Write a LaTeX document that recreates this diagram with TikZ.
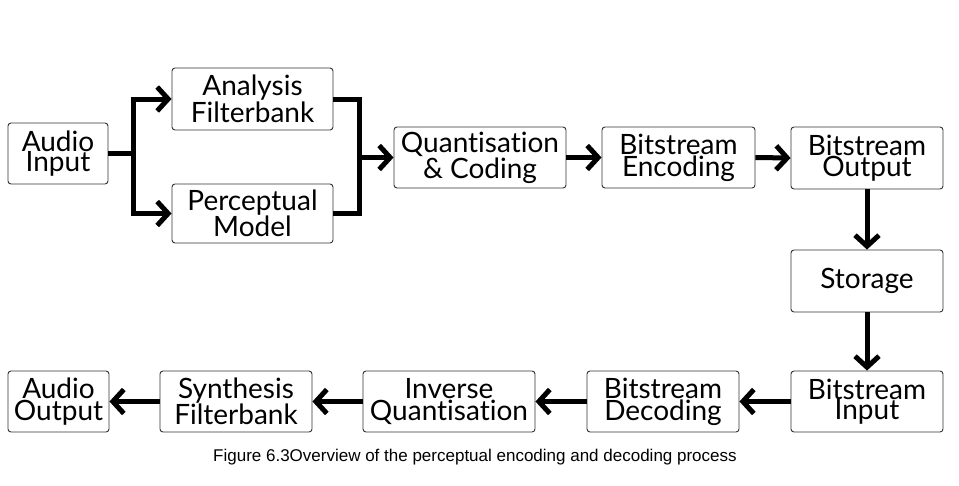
\documentclass[tikz,border=0pt]{standalone}
\usepackage{fontspec}
\setmainfont[Ligatures=NoCommon]{Lato}
\newfontfamily\capfont{Liberation Sans}
\usetikzlibrary{arrows.meta}
\begin{document}
\begin{tikzpicture}[x=1pt,y=-1pt,
  blk/.style={draw=black!80,line width=0.9pt,rounded corners=3pt,inner sep=0pt,
    align=center,font=\fontsize{28}{20.5}\selectfont,minimum height=61pt},
  conn/.style={line width=5pt},
  arr/.style={line width=5pt,-{Straight Barb[length=11pt,width=24pt]}}]
\useasboundingbox[fill=white] (0,0) rectangle (959,485);
\node[blk,minimum width=100pt] (ain) at (58,153.5) {Audio\\Input};
\node[blk,minimum width=161pt,minimum height=62pt] (anf) at (252.5,99) {Analysis\\Filterbank};
\node[blk,minimum width=161pt,minimum height=59pt] (pm) at (252.5,213.5) {Perceptual\\Model};
\node[blk,minimum width=172pt] (qc) at (480,157.5) {Quantisation\\\& Coding};
\node[blk,minimum width=153pt] (be) at (678.5,157.5) {Bitstream\\Encoding};
\node[blk,minimum width=152pt,minimum height=62pt] (bo) at (867,158) {Bitstream\\Output};
\node[blk,minimum width=152pt,minimum height=62pt] (st) at (867,281) {Storage};
\node[blk,minimum width=152pt] (bi) at (867,401.5) {Bitstream\\Input};
\node[blk,minimum width=152pt] (bd) at (663,401.5) {Bitstream\\Decoding};
\node[blk,minimum width=172pt] (iq) at (449,401.5) {Inverse\\Quantisation};
\node[blk,minimum width=152pt] (sf) at (236,401.5) {Synthesis\\Filterbank};
\node[blk,minimum width=101pt] (ao) at (58.5,401.5) {Audio\\Output};
\coordinate (j1) at (133,153.5);
\coordinate (j2) at (359,157.5);
\draw[conn] (ain.east) -- (j1);
\draw[arr] (j1) |- (anf.west);
\draw[arr] (j1) |- (pm.west);
\draw[conn] (anf.east) -| (j2);
\draw[conn] (pm.east) -| (j2);
\draw[arr] (j2) -- (qc.west);
\draw[arr] (qc.east) -- (be.west);
\draw[arr] (be.east) -- (bo.west);
\draw[arr] (bo.south) -- (st.north);
\draw[arr] (st.south) -- (bi.north);
\draw[arr] (bi.west) -- (bd.east);
\draw[arr] (bd.west) -- (iq.east);
\draw[arr] (iq.west) -- (sf.east);
\draw[arr] (sf.west) -- (ao.east);
\node[anchor=base west,inner sep=0pt,font=\capfont\fontsize{17}{20}\selectfont] (cap) at (213,461) {Figure 6.3Overview of the perceptual encoding and decoding process};
\end{tikzpicture}
\end{document}
